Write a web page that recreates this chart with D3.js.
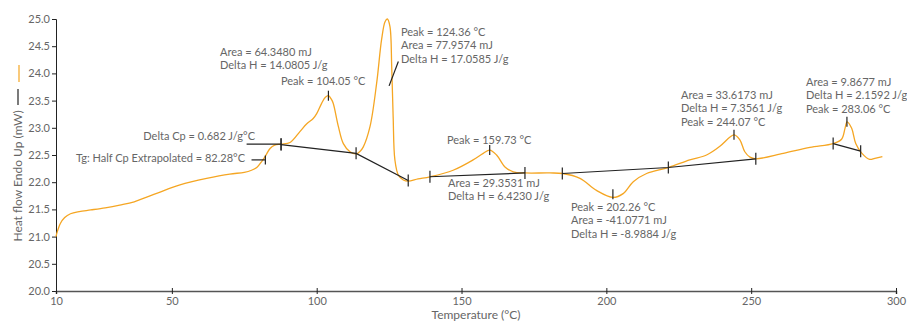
<!DOCTYPE html>
<html>
<head>
<meta charset="utf-8">
<script src="https://cdn.jsdelivr.net/npm/d3@7"></script>
<style>
  body { margin: 0; background: #fff; }
  text { font-family: Lato, "Open Sans", sans-serif; fill: #666; }
</style>
</head>
<body>
<div id="chart"></div>
<script>
// heat flow curve (temperature °C, heat flow mW)
const temps = [10.0, 10.5, 11.5, 13.0, 15.0, 18.0, 22.0, 27.0, 32.0, 37.0, 45.0, 52.8, 62.0, 70.0, 75.0, 77.5, 79.5, 81.0,
  82.3, 83.9, 85.5, 87.7, 90.8, 94.2, 96.5, 98.8, 100.0, 101.7, 103.0, 104.05, 105.0, 105.7, 107.5, 109.2,
  111.5, 113.6, 115.0, 116.1, 118.4, 120.7, 122.4, 123.6, 124.4, 125.3, 125.9, 126.4, 127.0, 128.2, 129.9,
  131.6, 135.0, 139.1, 147.1, 154.0, 157.5, 159.73, 162.1, 165.0, 167.9, 171.9, 180.5, 184.9, 190.9, 196.6,
  202.3, 205.8, 209.3, 213.9, 221.4, 228.8, 234.6, 239.2, 242.7, 244.1, 246.1, 247.8, 249.6, 251.6, 261.1,
  270.3, 278.3, 281.2, 282.4, 283.1, 284.7, 286.1, 288.1, 290.9, 292.7, 295.3];
const heatFlow = [21.00, 21.10, 21.24, 21.35, 21.42, 21.46, 21.49, 21.53, 21.58, 21.64, 21.80, 21.95, 22.07, 22.15, 22.18, 22.22, 22.28, 22.38,
  22.48, 22.62, 22.68, 22.70, 22.73, 22.93, 23.07, 23.17, 23.26, 23.45, 23.56, 23.59, 23.53, 23.45, 23.02, 22.71,
  22.56, 22.52, 22.57, 22.65, 23.02, 23.82, 24.62, 24.95, 25.00, 24.86, 24.12, 23.20, 22.41, 22.13, 22.04,
  22.02, 22.06, 22.10, 22.22, 22.41, 22.53, 22.59, 22.50, 22.28, 22.19, 22.17, 22.17, 22.16, 22.07, 21.85,
  21.72, 21.79, 22.01, 22.16, 22.27, 22.41, 22.50, 22.66, 22.83, 22.87, 22.78, 22.56, 22.46, 22.43, 22.53,
  22.64, 22.71, 22.79, 22.99, 23.11, 22.99, 22.71, 22.54, 22.42, 22.44, 22.47];

// analysis baselines [temp, heat flow]
const cpLine = [[75.8, 22.70], [87.7, 22.70]];
const tgLine = [[77.5, 22.41], [82.28, 22.41]];
const baseline1 = [[87.7, 22.69], [113.6, 22.53], [131.6, 22.03]];
const baseline2 = [[139.1, 22.10], [171.9, 22.17]];
const baseline3 = [[184.8, 22.16], [221.4, 22.27], [251.6, 22.43]];
const baseline4 = [[278.3, 22.71], [287.8, 22.57]];
const peaks = [[104.05, 23.59], [159.73, 22.59], [202.26, 21.78], [244.07, 22.87], [283.06, 23.11]];
const leader124 = [[125.0, 23.77], [128.2, 24.22]];

// annotation texts
const cpText = ["Delta Cp = 0.682 J/g°C"];
const tgText = ["Tg: Half Cp Extrapolated = 82.28°C"];
const peak104Text = ["Area = 64.3480 mJ", "Delta H = 14.0805 J/g"];
const peak104Label = ["Peak = 104.05 °C"];
const peak124Text = ["Peak = 124.36 °C", "Area = 77.9574 mJ", "Delta H = 17.0585 J/g"];
const peak160Label = ["Peak = 159.73 °C"];
const peak160Text = ["Area = 29.3531 mJ", "Delta H = 6.4230 J/g"];
const peak202Text = ["Peak = 202.26 °C", "Area = -41.0771 mJ", "Delta H = -8.9884 J/g"];
const peak244Text = ["Area = 33.6173 mJ", "Delta H = 7.3561 J/g", "Peak = 244.07 °C"];
const peak283Text = ["Area = 9.8677 mJ", "Delta H = 2.1592 J/g", "Peak = 283.06 °C"];

const xTicks = [10, 50, 100, 150, 200, 250, 300];
const yTicks = [20.0, 20.5, 21.0, 21.5, 22.0, 22.5, 23.0, 23.5, 24.0, 24.5, 25.0];

const width = 907, height = 322;
const margin = {top: 19, right: 11, bottom: 31, left: 56};
const orange = "#f5a623";
const ink = "#222";

const svg = d3.select("#chart").append("svg")
  .attr("width", width)
  .attr("height", height);

const x = d3.scaleLinear().domain([10, 300]).range([margin.left, width - margin.right]);
const y = d3.scaleLinear().domain([20, 25]).range([height - margin.bottom, margin.top]);

// axes
const yAxis = svg.append("g")
  .attr("transform", "translate(" + margin.left + ",0)")
  .call(d3.axisLeft(y).tickValues(yTicks).tickFormat(d3.format(".1f")).tickSize(4).tickPadding(2));
yAxis.select(".domain").attr("stroke", ink);
yAxis.selectAll(".tick line").attr("stroke", ink);
yAxis.selectAll("text").attr("font-size", 11).attr("fill", "#666");

const xAxis = svg.append("g")
  .attr("transform", "translate(0," + (height - margin.bottom) + ")")
  .call(d3.axisBottom(x).tickValues(xTicks).tickSizeOuter(0).tickSize(3).tickPadding(3));
xAxis.select(".domain").attr("stroke", "#555").attr("stroke-width", 1.5);
xAxis.selectAll(".tick line").attr("stroke", ink).attr("y1", -3);
xAxis.selectAll("text").attr("font-size", 11).attr("fill", "#666");

svg.append("text")
  .attr("x", (margin.left + width - margin.right) / 2)
  .attr("y", height - 3)
  .attr("text-anchor", "middle")
  .attr("font-size", 12)
  .text("Temperature (°C)");

// y label with legend dashes
svg.append("text")
  .attr("transform", "translate(22," + 176 + ") rotate(-90)")
  .attr("text-anchor", "middle")
  .attr("font-size", 12)
  .text("Heat flow Endo Up (mW)");
svg.append("line").attr("x1", 18).attr("x2", 18).attr("y1", 89).attr("y2", 105)
  .attr("stroke", ink).attr("stroke-width", 1.2);
svg.append("line").attr("x1", 19).attr("x2", 19).attr("y1", 65).attr("y2", 82)
  .attr("stroke", orange).attr("stroke-width", 1.2);

// curve
const curveData = temps.map((t, i) => [t, heatFlow[i]]);
const line = d3.line()
  .x(d => x(d[0]))
  .y(d => y(d[1]))
  .curve(d3.curveCatmullRom.alpha(0.5));

svg.append("path")
  .datum(curveData)
  .attr("fill", "none")
  .attr("stroke", orange)
  .attr("stroke-width", 1.3)
  .attr("d", line);

// baselines
const straight = d3.line().x(d => x(d[0])).y(d => y(d[1]));
[cpLine, tgLine, baseline1, baseline2, baseline3, baseline4, leader124].forEach(seg => {
  svg.append("path")
    .attr("d", straight(seg))
    .attr("fill", "none")
    .attr("stroke", ink)
    .attr("stroke-width", 1.2);
});

function tick(d, half) {
  svg.append("line")
    .attr("x1", x(d[0])).attr("x2", x(d[0]))
    .attr("y1", y(d[1]) - half).attr("y2", y(d[1]) + half)
    .attr("stroke", ink).attr("stroke-width", 1.2);
}
tick(cpLine[1], 6);
tick(tgLine[1], 4.5);
[baseline1, baseline2, baseline3, baseline4].forEach(seg => seg.forEach(d => tick(d, 6)));
peaks.forEach(d => tick(d, 5));

// annotations
function label(lines, px, py, anchor) {
  const g = svg.append("text")
    .attr("font-size", 11)
    .attr("text-anchor", anchor || "start");
  lines.forEach((s, i) => {
    g.append("tspan").attr("x", px).attr("y", py + i * 13.3).text(s);
  });
}
label(cpText, 255, 140, "end");
label(tgText, 245, 162, "end");
label(peak104Text, 220, 56);
label(peak104Label, 281, 85);
label(peak124Text, 401, 36);
label(peak160Label, 447, 144);
label(peak160Text, 448, 187);
label(peak202Text, 571, 211);
label(peak244Text, 681, 99);
label(peak283Text, 806, 86);
</script>
</body>
</html>
